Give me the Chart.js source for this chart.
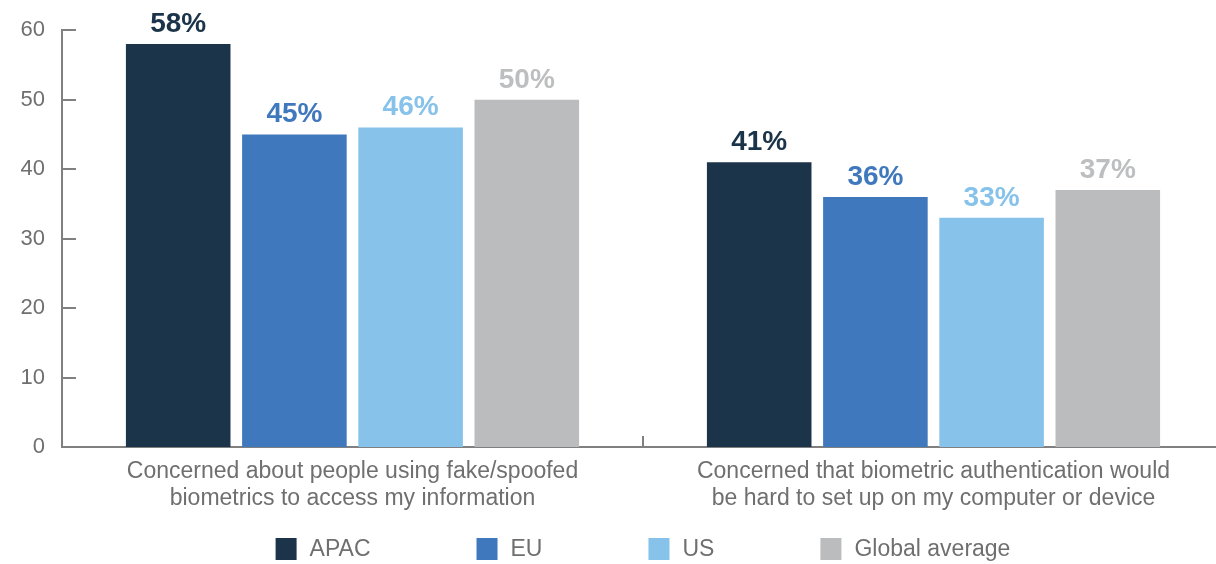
<!DOCTYPE html>
<html>
<head>
<meta charset="utf-8">
<script src="https://cdn.jsdelivr.net/npm/chart.js@4/dist/chart.umd.min.js"></script>
<style>
  html, body { margin: 0; padding: 0; background: #fff; overflow: hidden; }
  #wrap { width: 1230px; height: 564px; position: relative; }
</style>
</head>
<body>
<div id="wrap"><canvas id="chart"></canvas></div>
<script>
// values (percent)
const categories = [
  ['Concerned about people using fake/spoofed', 'biometrics to access my information'],
  ['Concerned that biometric authentication would', 'be hard to set up on my computer or device']
];
const regions = ['APAC', 'EU', 'US', 'Global average'];
const apac = [58, 41];
const eu = [45, 36];
const us = [46, 33];
const globalAvg = [50, 37];
const yTicks = [0, 10, 20, 30, 40, 50, 60];

const barColors = ['#1c3449', '#3f78bd', '#86c2e9', '#bbbcbe'];
const labelColors = ['#1c3449', '#3f78bd', '#86c2e9', '#bdbebf'];
const FONT = '"Liberation Sans", Arial, Helvetica, sans-serif';
const axisGray = '#808080';
const textGray = '#6f6f6f';

// value labels above the bars
const valueLabels = {
  id: 'valueLabels',
  afterDatasetsDraw(chart) {
    const ctx = chart.ctx;
    ctx.save();
    ctx.font = 'bold 28px ' + FONT;
    ctx.textAlign = 'center';
    ctx.textBaseline = 'alphabetic';
    chart.data.datasets.forEach((ds, i) => {
      const meta = chart.getDatasetMeta(i);
      ctx.fillStyle = labelColors[i];
      meta.data.forEach((bar, j) => {
        ctx.fillText(ds.data[j] + '%', bar.x, bar.y - 12);
      });
    });
    ctx.restore();
  }
};

// inward tick marks on y axis and category separators on x axis
const innerTicks = {
  id: 'innerTicks',
  afterDraw(chart) {
    const ctx = chart.ctx;
    const area = chart.chartArea;
    const y = chart.scales.y;
    const x = chart.scales.x;
    ctx.save();
    ctx.strokeStyle = axisGray;
    ctx.lineWidth = 2;
    y.ticks.forEach(t => {
      if (t.value === 0) return;
      const py = Math.round(y.getPixelForValue(t.value));
      ctx.beginPath();
      ctx.moveTo(area.left, py);
      ctx.lineTo(area.left + 14, py);
      ctx.stroke();
    });
    const n = chart.data.labels.length;
    for (let i = 1; i < n; i++) {
      const px = Math.round((x.getPixelForValue(i - 1) + x.getPixelForValue(i)) / 2);
      ctx.beginPath();
      ctx.moveTo(px, area.bottom);
      ctx.lineTo(px, area.bottom - 11);
      ctx.stroke();
    }
    ctx.restore();
  }
};

// legend drawn at the bottom, centred on the plot area
const bottomLegend = {
  id: 'bottomLegend',
  afterDraw(chart) {
    const ctx = chart.ctx;
    const area = chart.chartArea;
    const boxW = 21, boxH = 22, gap = 13, spacing = 106;
    ctx.save();
    ctx.font = '23px ' + FONT;
    const widths = regions.map(r => ctx.measureText(r).width);
    let total = 0;
    widths.forEach((w, i) => { total += boxW + gap + w + (i < widths.length - 1 ? spacing : 0); });
    let px = (area.left + area.right) / 2 - total / 2;
    const cy = 549;
    ctx.textBaseline = 'middle';
    ctx.textAlign = 'left';
    regions.forEach((r, i) => {
      ctx.fillStyle = barColors[i];
      ctx.fillRect(px, cy - boxH / 2, boxW, boxH);
      ctx.fillStyle = textGray;
      ctx.fillText(r, px + boxW + gap, cy + 1);
      px += boxW + gap + widths[i] + spacing;
    });
    ctx.restore();
  }
};

const data = {
  labels: categories,
  datasets: [
    { label: regions[0], data: apac, backgroundColor: barColors[0] },
    { label: regions[1], data: eu, backgroundColor: barColors[1] },
    { label: regions[2], data: us, backgroundColor: barColors[2] },
    { label: regions[3], data: globalAvg, backgroundColor: barColors[3] }
  ]
};

const config = {
  type: 'bar',
  data: data,
  options: {
    responsive: false,
    animation: false,
    devicePixelRatio: 1,
    layout: { padding: { top: 30, right: 6, bottom: 53, left: 0 } },
    datasets: {
      bar: { categoryPercentage: 0.8, barPercentage: 0.9, borderWidth: 0 }
    },
    plugins: {
      legend: { display: false },
      tooltip: { enabled: false }
    },
    scales: {
      x: {
        grid: { display: false, drawTicks: false },
        border: { display: true, color: axisGray, width: 2 },
        ticks: {
          color: textGray,
          font: { family: FONT, size: 23, lineHeight: 1.18 },
          padding: 11,
          maxRotation: 0,
          autoSkip: false
        },
        afterFit(s) { s.height = 64; }
      },
      y: {
        min: 0,
        max: 60,
        afterBuildTicks(s) { s.ticks = yTicks.map(v => ({ value: v })); },
        grid: { display: false, drawTicks: false },
        border: { display: true, color: axisGray, width: 2 },
        ticks: {
          color: textGray,
          font: { family: FONT, size: 22 },
          padding: 17
        },
        afterFit(s) { s.width = 62; }
      }
    }
  },
  plugins: [valueLabels, innerTicks, bottomLegend]
};

const canvas = document.getElementById('chart');
canvas.width = 1230;
canvas.height = 564;
new Chart(canvas.getContext('2d'), config);
</script>
</body>
</html>
